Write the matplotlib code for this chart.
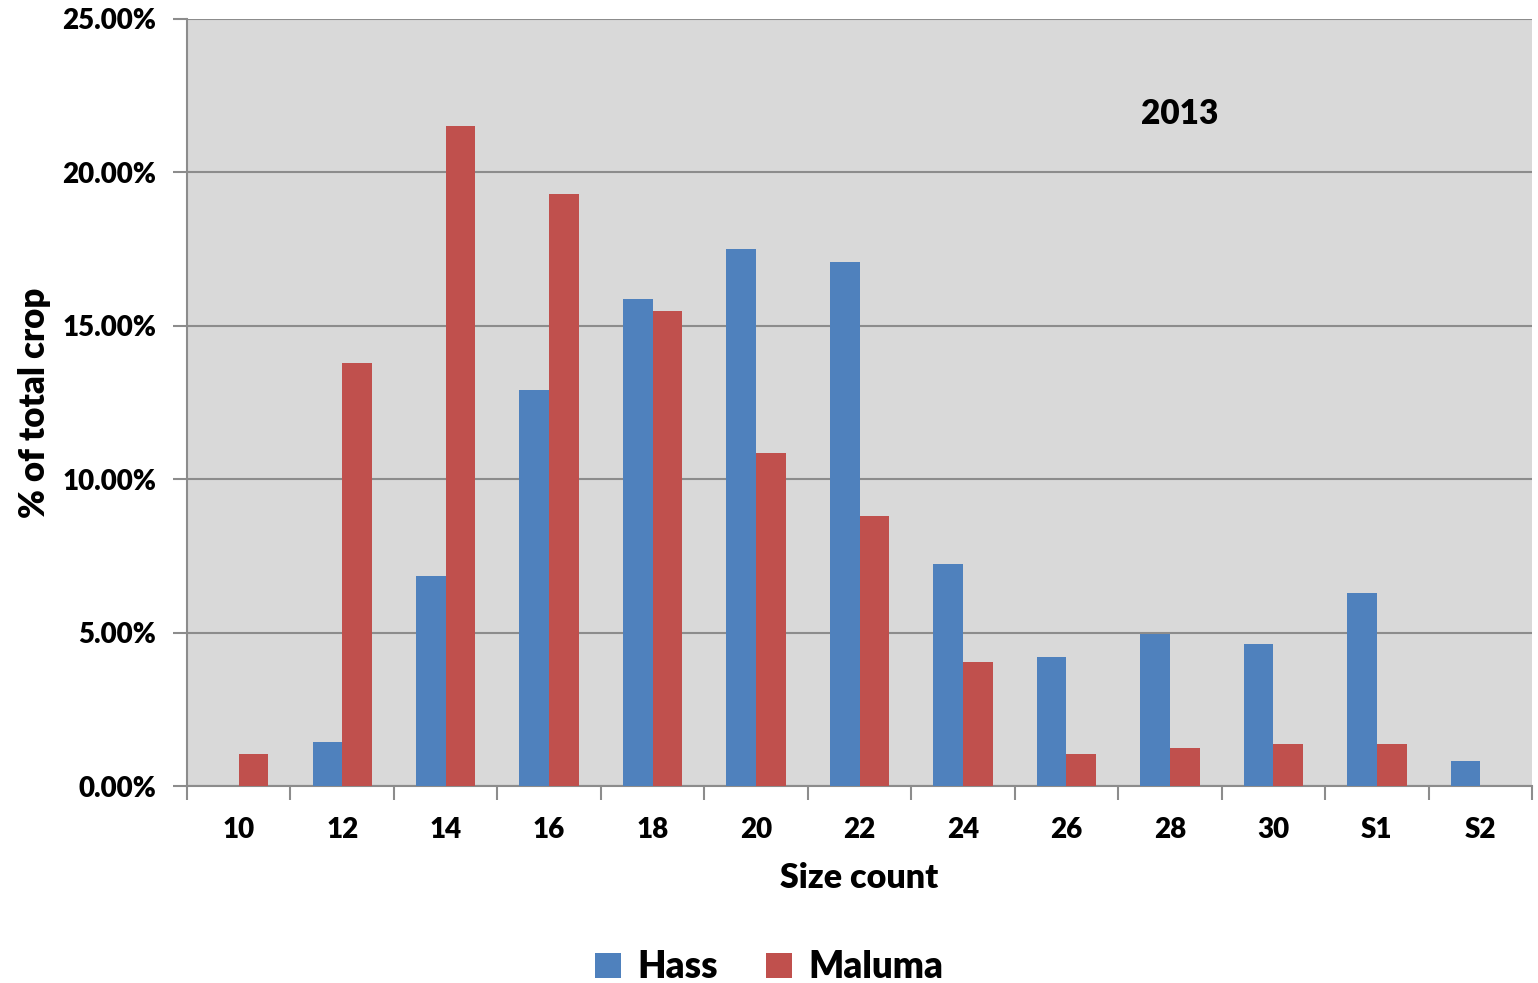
import matplotlib
matplotlib.use("Agg")
import matplotlib.pyplot as plt
import numpy as np
from matplotlib.ticker import FuncFormatter, FixedLocator

plt.rcParams['font.family'] = ['Lato', 'DejaVu Sans']
plt.rcParams['font.weight'] = 'heavy'

sizes = ["10", "12", "14", "16", "18", "20", "22", "24", "26", "28", "30", "S1", "S2"]
hass = [0.0, 1.43, 6.84, 12.91, 15.87, 17.50, 17.08, 7.24, 4.20, 4.95, 4.63, 6.29, 0.81]
maluma = [1.04, 13.79, 21.51, 19.30, 15.48, 10.85, 8.80, 4.04, 1.04, 1.24, 1.37, 1.37, 0.0]
year_label = "2013"

blue = "#4f81bd"
red = "#c0504d"
grid_col = "#8c8c8c"

fig = plt.figure(figsize=(15.38, 9.83), dpi=100)
ax = fig.add_axes([0.1216, 0.2004, 0.8745, 0.7803])
ax.set_facecolor("#d9d9d9")

x = np.arange(len(sizes))
w = 0.287
ax.bar(x - w / 2, hass, width=w, color=blue, label="Hass", zorder=3)
ax.bar(x + w / 2, maluma, width=w, color=red, label="Maluma", zorder=3)

ax.set_xlim(-0.5, len(sizes) - 0.5)
ax.set_ylim(0, 25)
ax.set_yticks(np.arange(0, 25.01, 5))
ax.yaxis.set_major_formatter(FuncFormatter(lambda v, p: f"{v:.2f}%"))
ax.grid(axis="y", color=grid_col, linewidth=1.5, zorder=0)

ax.set_xticks(x)
ax.set_xticklabels(sizes)
ax.xaxis.set_minor_locator(FixedLocator(np.arange(-0.5, len(sizes), 1.0)))
ax.tick_params(axis="x", which="major", length=0, pad=22, labelsize=20)
ax.tick_params(axis="x", which="minor", length=10, width=1.5, color=grid_col, direction="out")
ax.tick_params(axis="y", length=10, width=1.5, color=grid_col, direction="out", pad=12, labelsize=20)

for s in ["top", "right"]:
    ax.spines[s].set_visible(False)
for s in ["left", "bottom"]:
    ax.spines[s].set_color(grid_col)
    ax.spines[s].set_linewidth(1.5)

ax.set_xlabel("Size count", fontsize=24.5, fontweight="heavy", labelpad=14)
ax.set_ylabel("% of total crop", fontsize=25, fontweight="heavy", labelpad=8)

ax.text(0.738, 0.876, year_label, transform=ax.transAxes, fontsize=24,
        fontweight="heavy", ha="center", va="center")

fig.legend(loc="lower center", bbox_to_anchor=(0.5, -0.035), ncol=2, frameon=False,
           fontsize=26.5, handlelength=0.7, handleheight=0.7, handletextpad=0.45,
           columnspacing=1.3)

fig.savefig("out.png", dpi=100)
